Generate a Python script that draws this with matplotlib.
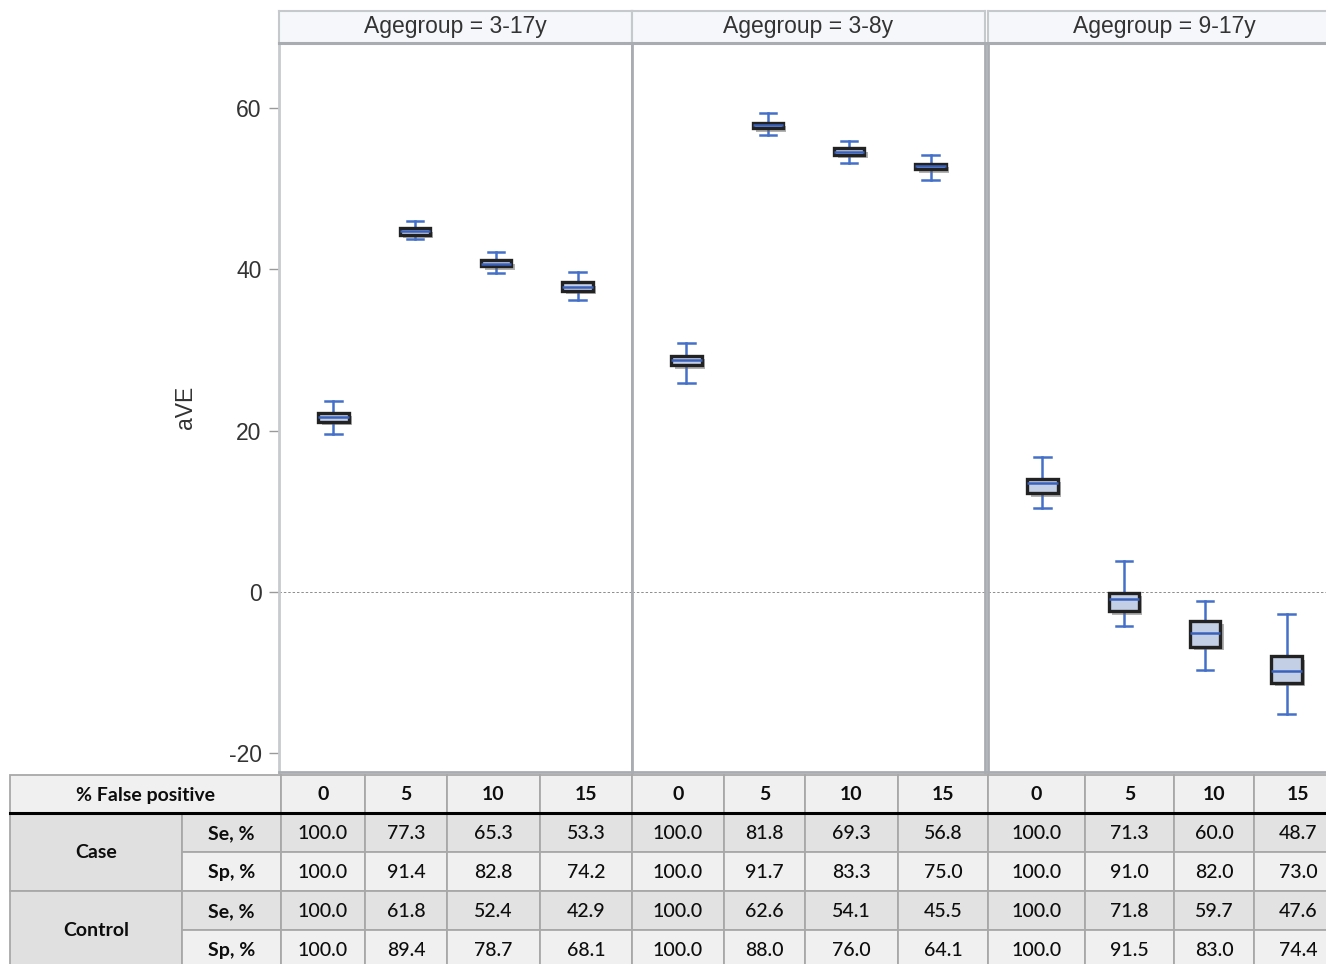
import matplotlib
matplotlib.use('Agg')
import matplotlib.pyplot as plt
import matplotlib.patheffects as pe
from matplotlib.patches import Rectangle

# --- data ---
age_groups = ['3-17y', '3-8y', '9-17y']
false_pos = ['0', '5', '10', '15']

whis_lo = [[19.6, 43.7, 39.5, 36.2], [25.9, 56.6, 53.2, 51.1], [10.4, -4.3, -9.65, -15.1]]
q1 = [[21.1, 44.3, 40.4, 37.3], [28.1, 57.5, 54.2, 52.4], [12.2, -2.4, -6.8, -11.3]]
med = [[21.7, 44.7, 40.7, 37.85], [28.7, 57.85, 54.6, 52.75], [13.45, -0.9, -5.1, -9.8]]
q3 = [[22.2, 45.1, 41.1, 38.4], [29.3, 58.2, 55.0, 53.1], [14.0, -0.1, -3.6, -8.0]]
whis_hi = [[23.7, 46.0, 42.1, 39.7], [30.8, 59.4, 55.9, 54.2], [16.7, 3.8, -1.2, -2.7]]

case_se = [[100.0, 77.3, 65.3, 53.3], [100.0, 81.8, 69.3, 56.8], [100.0, 71.3, 60.0, 48.7]]
case_sp = [[100.0, 91.4, 82.8, 74.2], [100.0, 91.7, 83.3, 75.0], [100.0, 91.0, 82.0, 73.0]]
ctrl_se = [[100.0, 61.8, 52.4, 42.9], [100.0, 62.6, 54.1, 45.5], [100.0, 71.8, 59.7, 47.6]]
ctrl_sp = [[100.0, 89.4, 78.7, 68.1], [100.0, 88.0, 76.0, 64.1], [100.0, 91.5, 83.0, 74.4]]

W, H = 1326, 964
plt.rcParams['font.family'] = ['Liberation Sans', 'DejaVu Sans']
plt.rcParams['axes.unicode_minus'] = False
fig = plt.figure(figsize=(W / 100, H / 100), dpi=100)

def fx(px):
    return px / W

def fy(py):
    return 1 - py / H

panel_x = [279, 632, 988]
panel_w = 353
plot_top, plot_bot = 43, 772
strip_top = 11

txt_col = '#333333'
spine_col = '#a9adb1'

for i, grp in enumerate(age_groups):
    ax = fig.add_axes([fx(panel_x[i]), fy(plot_bot), panel_w / W, (plot_bot - plot_top) / H])
    stats = []
    for j in range(len(false_pos)):
        stats.append(dict(whislo=whis_lo[i][j], q1=q1[i][j], med=med[i][j],
                          q3=q3[i][j], whishi=whis_hi[i][j], fliers=[]))
    bp = ax.bxp(stats, positions=range(len(false_pos)), widths=0.37, capwidths=0.2,
                patch_artist=True, showfliers=False,
                boxprops=dict(facecolor='#c3cfe4', edgecolor='#222222', linewidth=2.4),
                medianprops=dict(color='#3a62bd', linewidth=1.8),
                whiskerprops=dict(color='#4470c8', linewidth=1.8),
                capprops=dict(color='#4470c8', linewidth=1.8))
    for b in bp['boxes']:
        b.set_path_effects([pe.SimplePatchShadow(offset=(2.5, -2.5), shadow_rgbFace='#666666', alpha=0.5),
                            pe.Normal()])
        b.set_zorder(3)
    for m in bp['medians']:
        m.set_zorder(4)
    ax.axhline(0, color='#8c8c8c', lw=0.7, ls=(0, (2.5, 2)), zorder=1)
    ax.set_xlim(-0.67, 3.67)
    ax.set_ylim(-22.35, 68.06)
    ax.set_xticks([])
    ax.set_yticks([-20, 0, 20, 40, 60])
    for s in ['left', 'right', 'bottom']:
        ax.spines[s].set_color(spine_col)
        ax.spines[s].set_linewidth(2.0)
    ax.spines['top'].set_visible(False)
    if i == 0:
        ax.spines['left'].set_color('#c8cbce')
        ax.tick_params(axis='y', length=7.5, width=1, color='#9a9a9a', labelsize=16.5,
                       labelcolor=txt_col, pad=5)
        ax.set_ylabel('aVE', fontsize=16.5, color=txt_col)
        ax.yaxis.set_label_coords((197 - 279) / panel_w, 0.5)
    else:
        ax.tick_params(axis='y', left=False, labelleft=False)

    # strip header
    sax = fig.add_axes([fx(panel_x[i]), fy(plot_top), panel_w / W, (plot_top - strip_top) / H])
    sax.set_facecolor('#f5f7fb')
    sax.set_xticks([])
    sax.set_yticks([])
    for s in sax.spines.values():
        s.set_color('#c6c9cc')
        s.set_linewidth(1.5)
    sax.spines['bottom'].set_color(spine_col)
    sax.spines['bottom'].set_linewidth(2.2)
    sax.text(0.5, 0.5, 'Agegroup = ' + grp, ha='center', va='center', fontsize=16.5,
             color=txt_col, transform=sax.transAxes)

# --- table below the panels ---
tab = fig.add_axes([0, 0, 1, 1], zorder=-1)
tab.set_xlim(0, W)
tab.set_ylim(H, 0)
tab.axis('off')

col_edges = [281, 365, 447, 540, 632, 724, 805, 898, 988, 1085, 1174, 1254, 1342]
row_edges = [775, 813, 852, 891, 930, 969]
lab_edges = [10, 182, 281]
grid_col = '#a8a8a8'
light_bg = '#f0f0f0'
dark_bg = '#e2e2e2'
tfont = dict(family=['Lato', 'DejaVu Sans'], fontsize=14, color='#0d0d0d')

def cell(x0, x1, y0, y1, bg, text, bold=False):
    tab.add_patch(Rectangle((x0, y0), x1 - x0, y1 - y0, facecolor=bg, edgecolor=grid_col, lw=1.3))
    tab.text((x0 + x1) / 2, (y0 + y1) / 2 + 1, text, ha='center', va='center',
             fontweight='bold' if bold else 'medium', **tfont)

# header row
cell(lab_edges[0], lab_edges[2], row_edges[0], row_edges[1], light_bg, '% False positive', bold=True)
for g in range(len(age_groups)):
    for j, fp in enumerate(false_pos):
        k = g * len(false_pos) + j
        cell(col_edges[k], col_edges[k + 1], row_edges[0], row_edges[1], light_bg, fp, bold=True)

rows = [('Case', 'Se, %', case_se), ('Case', 'Sp, %', case_sp),
        ('Control', 'Se, %', ctrl_se), ('Control', 'Sp, %', ctrl_sp)]
for r, (grp_lab, meas, vals) in enumerate(rows):
    y0, y1 = row_edges[r + 1], row_edges[r + 2]
    bg = dark_bg if meas.startswith('Se') else light_bg
    if r % 2 == 0:
        cell(lab_edges[0], lab_edges[1], y0, row_edges[r + 3], '#e0e0e0', grp_lab, bold=True)
    cell(lab_edges[1], lab_edges[2], y0, y1, bg, meas, bold=True)
    for g in range(len(age_groups)):
        for j in range(len(false_pos)):
            k = g * len(false_pos) + j
            cell(col_edges[k], col_edges[k + 1], y0, y1, bg, f'{vals[g][j]:.1f}')

tab.plot([lab_edges[0], col_edges[-1]], [row_edges[1], row_edges[1]], color='black', lw=2.2)

fig.savefig('out.png', dpi=100)
